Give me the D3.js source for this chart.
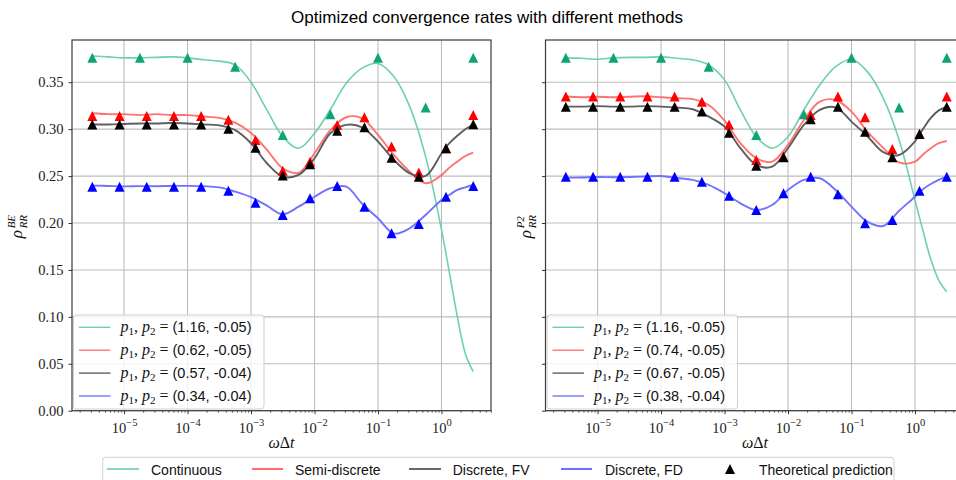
<!DOCTYPE html>
<html><head><meta charset="utf-8">
<script src="https://cdn.jsdelivr.net/npm/d3@7"></script>
<style>body{margin:0;background:#fff}svg{display:block}</style>
</head><body><svg id="c" width="956" height="480"></svg>
<script>
// ---------------- data ----------------
const titleText = "Optimized convergence rates with different methods";
const seriesNames = ["Continuous", "Semi-discrete", "Discrete, FV", "Discrete, FD"];
const predictionName = "Theoretical prediction";
const xTickExps = [-5, -4, -3, -2, -1, 0];
const yTicks = [0.00, 0.05, 0.10, 0.15, 0.20, 0.25, 0.30, 0.35];

// exponent (log10 of omega*dt) of the sampled simulation curves
const lineExp = [-5.5,-5.25,-5,-4.75,-4.5,-4.25,-4,-3.75,-3.5,-3.25,-3,-2.75,-2.5,-2.25,-2,-1.75,-1.5,-1.25,-1,-0.75,-0.5,-0.25,0,0.125,0.25,0.375,0.5];
// exponents of theoretical prediction markers
const triExp = [-5.5,-5.071,-4.643,-4.214,-3.786,-3.357,-2.929,-2.5,-2.071,-1.643,-1.214,-0.786,-0.357,0.071,0.5];
const triExpContinuous = [-5.5,-4.75,-4,-3.25,-2.5,-1.75,-1,-0.25,0.5];

// left panel (rho_RR^BE)
const leftContinuous = [0.378,0.377,0.376,0.376,0.3765,0.377,0.376,0.374,0.3725,0.3685,0.350,0.3205,0.292,0.2797,0.2956,0.321,0.349,0.365,0.370,0.356,0.324,0.2707,0.193,0.147,0.1002,0.061,0.0416];
const leftSemi = [0.317,0.316,0.316,0.315,0.316,0.315,0.315,0.3135,0.312,0.307,0.296,0.278,0.2583,0.2535,0.2743,0.299,0.3127,0.3116,0.2938,0.2725,0.2547,0.2423,0.251,0.259,0.2654,0.2714,0.275];
const leftFV = [0.305,0.305,0.3055,0.306,0.306,0.3065,0.306,0.305,0.304,0.299,0.285,0.2637,0.2494,0.2512,0.269,0.2956,0.3045,0.302,0.2867,0.2672,0.253,0.2501,0.274,0.285,0.293,0.300,0.305];
const leftFD = [0.2398,0.2395,0.239,0.2393,0.2392,0.2395,0.2396,0.2392,0.238,0.2334,0.2275,0.2185,0.2093,0.2174,0.228,0.237,0.2387,0.2205,0.205,0.1888,0.1944,0.2086,0.2245,0.230,0.2352,0.238,0.2405];
const leftLegend = ["(1.16, -0.05)", "(0.62, -0.05)", "(0.57, -0.04)", "(0.34, -0.04)"];

// right panel (rho_RR^P2)
const rightContinuous = [0.376,0.3755,0.3745,0.376,0.3765,0.3765,0.377,0.3755,0.3738,0.3684,0.3525,0.3205,0.292,0.2797,0.292,0.3205,0.3471,0.3666,0.3745,0.3613,0.333,0.2885,0.2245,0.192,0.161,0.139,0.1268];
const rightSemi = [0.335,0.334,0.3345,0.334,0.3345,0.335,0.334,0.333,0.332,0.3258,0.309,0.285,0.269,0.2654,0.2832,0.3098,0.3293,0.3311,0.3187,0.2973,0.280,0.2645,0.2654,0.273,0.2797,0.285,0.2874];
const rightFV = [0.324,0.324,0.3245,0.324,0.324,0.3245,0.324,0.323,0.3212,0.3134,0.3027,0.2797,0.2619,0.26,0.2797,0.3045,0.3205,0.3233,0.308,0.2925,0.2755,0.2725,0.287,0.300,0.312,0.320,0.324];
const rightFD = [0.2483,0.2485,0.249,0.2488,0.249,0.2495,0.2501,0.248,0.2459,0.2405,0.2317,0.221,0.2139,0.2192,0.2352,0.2459,0.2477,0.2352,0.2174,0.2014,0.1968,0.213,0.228,0.236,0.2416,0.246,0.2494];
const rightLegend = ["(1.16, -0.05)", "(0.74, -0.05)", "(0.67, -0.05)", "(0.38, -0.04)"];

// theoretical predictions
const triContinuous = [0.376,0.376,0.376,0.3666,0.2938,0.316,0.376,0.323,0.376];
const leftTriSemi = [0.314,0.314,0.314,0.314,0.314,0.310,0.2885,0.2558,0.2654,0.3045,0.3127,0.2814,0.2537,0.2797,0.315];
const leftTriFV = [0.305,0.305,0.305,0.305,0.305,0.3005,0.2803,0.2505,0.2626,0.2984,0.302,0.2696,0.2494,0.2797,0.3052];
const leftTriFD = [0.2387,0.2387,0.2387,0.2387,0.2387,0.2345,0.2217,0.2086,0.2264,0.2395,0.2174,0.189,0.199,0.228,0.2395];
const rightTriSemi = [0.3347,0.3347,0.3347,0.3347,0.3347,0.3293,0.305,0.2672,0.2707,0.3151,0.3347,0.3127,0.2789,0.2949,0.3347];
const rightTriFV = [0.324,0.324,0.324,0.324,0.324,0.3187,0.2963,0.2611,0.27,0.3105,0.324,0.2973,0.27,0.2949,0.324];
const rightTriFD = [0.2494,0.2494,0.2494,0.2494,0.2494,0.244,0.2291,0.2139,0.2317,0.2494,0.2306,0.1997,0.2032,0.2345,0.2494];

// ---------------- style ----------------
const lineColors = ["#66cdaa", "#ff6a6a", "#555555", "#6a6aff"];
const legendLineColors = ["#66cdaa", "#ff4a4a", "#404040", "#4a4aff"];
const triColors = ["#0fa37a", "#ff0000", "#000000", "#0000ff"];
const serif = "'Liberation Serif', 'DejaVu Serif', serif";
const sans = "'Liberation Sans', 'DejaVu Sans', sans-serif";

const svg = d3.select("#c");
const panelW = 419, plotTop = 40, plotBottom = 410.7;
const y = d3.scaleLinear().domain([0, 0.395]).range([plotBottom, plotTop]);
const triPath = "M0,-5L5,5L-5,5Z";

svg.append("text").attr("x", 487).attr("y", 23).attr("text-anchor", "middle")
  .attr("font-family", sans).attr("font-size", 17).attr("fill", "#000").text(titleText);

const panels = [
  {x0: 72, sup: "BE", lines: [leftContinuous, leftSemi, leftFV, leftFD],
   tris: [triContinuous, leftTriSemi, leftTriFV, leftTriFD], legend: leftLegend, yLabels: true, labelX: 22},
  {x0: 545.5, sup: "P2", lines: [rightContinuous, rightSemi, rightFV, rightFD],
   tris: [triContinuous, rightTriSemi, rightTriFV, rightTriFD], legend: rightLegend, yLabels: false, labelX: 531}
];

panels.forEach((p, pi) => {
  const x = d3.scaleLog().domain([Math.pow(10, -5.82), Math.pow(10, 0.78)]).range([p.x0, p.x0 + panelW]);
  const g = svg.append("g");
  const clipId = "clip" + pi;
  svg.append("clipPath").attr("id", clipId).append("rect")
    .attr("x", p.x0).attr("y", plotTop).attr("width", panelW).attr("height", plotBottom - plotTop);

  // grid
  g.append("g").selectAll("line").data(xTickExps).enter().append("line")
    .attr("x1", d => x(Math.pow(10, d))).attr("x2", d => x(Math.pow(10, d)))
    .attr("y1", plotTop).attr("y2", plotBottom).attr("stroke", "#bdbdbd").attr("stroke-width", 1.1);
  g.append("g").selectAll("line").data(yTicks).enter().append("line")
    .attr("x1", p.x0).attr("x2", p.x0 + panelW)
    .attr("y1", d => y(d)).attr("y2", d => y(d)).attr("stroke", "#bdbdbd").attr("stroke-width", 1.1);

  // curves
  const lineGen = d3.line().x((d, i) => x(Math.pow(10, lineExp[i]))).y(d => y(d)).curve(d3.curveCatmullRom.alpha(0.5));
  const lg = g.append("g").attr("clip-path", `url(#${clipId})`);
  p.lines.forEach((vals, si) => {
    lg.append("path").datum(vals).attr("d", lineGen).attr("fill", "none")
      .attr("stroke", lineColors[si]).attr("stroke-width", si === 0 ? 1.6 : 1.9)
      .attr("stroke-opacity", 0.95);
  });

  // markers
  p.tris.forEach((vals, si) => {
    const ex = si === 0 ? triExpContinuous : triExp;
    lg.append("g").selectAll("path").data(vals).enter().append("path")
      .attr("d", triPath)
      .attr("transform", (d, i) => `translate(${x(Math.pow(10, ex[i]))},${y(d)})`)
      .attr("fill", triColors[si]);
  });

  // axes
  const xAxis = d3.axisBottom(x).tickValues(xTickExps.map(e => Math.pow(10, e)))
    .tickSize(3.5).tickPadding(3).tickFormat("");
  const xa = g.append("g").attr("transform", `translate(0,${plotBottom})`).call(xAxis);
  xa.select(".domain").remove();
  xa.selectAll(".tick line").attr("stroke", "#333");
  xa.selectAll(".tick").append("text").attr("y", 22).attr("text-anchor", "middle")
    .attr("font-family", serif).attr("font-size", 14.5).attr("fill", "#222")
    .each(function(d) {
      const t = d3.select(this);
      const e = Math.round(Math.log10(d));
      t.append("tspan").text("10");
      t.append("tspan").attr("dy", -7).attr("font-size", 10.5).text(e < 0 ? "\u2212" + (-e) : String(e));
    });
  const minor = [];
  for (let k = -6; k <= 0; k++) for (let m = 2; m <= 9; m++) {
    const v = m * Math.pow(10, k);
    if (v >= x.domain()[0] && v <= x.domain()[1]) minor.push(v);
  }
  const xm = g.append("g").attr("transform", `translate(0,${plotBottom})`)
    .call(d3.axisBottom(x).tickValues(minor).tickSize(2).tickFormat(""));
  xm.select(".domain").remove();
  xm.selectAll(".tick line").attr("stroke", "#333").attr("stroke-width", 0.8);

  const yAxis = d3.axisLeft(y).tickValues(yTicks).tickSize(3.5).tickPadding(5)
    .tickFormat(p.yLabels ? d3.format(".2f") : "");
  const ya = g.append("g").attr("transform", `translate(${p.x0},0)`).call(yAxis);
  ya.select(".domain").remove();
  ya.selectAll(".tick line").attr("stroke", "#333");
  ya.selectAll(".tick text").attr("font-family", serif).attr("font-size", 14.5).attr("fill", "#222");

  // spines
  g.append("rect").attr("x", p.x0).attr("y", plotTop).attr("width", panelW).attr("height", plotBottom - plotTop)
    .attr("fill", "none").attr("stroke", "#3a3a3a").attr("stroke-width", 1.2);

  // axis labels
  const xl = g.append("text").attr("x", p.x0 + panelW / 2).attr("y", 448).attr("text-anchor", "middle")
    .attr("font-family", serif).attr("font-size", 16).attr("fill", "#111");
  xl.append("tspan").attr("font-style", "italic").text("\u03c9");
  xl.append("tspan").text("\u0394");
  xl.append("tspan").attr("font-style", "italic").text("t");

  const yg = g.append("g").attr("transform", `translate(${p.labelX},${(plotTop + plotBottom) / 2}) rotate(-90)`);
  yg.append("text").attr("x", -13).attr("y", 0).attr("font-family", serif).attr("font-style", "italic")
    .attr("font-size", 17).attr("fill", "#111").text("\u03c1");
  yg.append("text").attr("x", -3).attr("y", -7).attr("font-family", serif).attr("font-style", "italic")
    .attr("font-size", 11).attr("fill", "#111").text(p.sup);
  yg.append("text").attr("x", -3).attr("y", 5).attr("font-family", serif).attr("font-style", "italic")
    .attr("font-size", 11).attr("fill", "#111").text("RR");

  // inner legend
  const lx = p.x0 + 1.5, ly = 315, lw = 190.5, lh = 94;
  const leg = g.append("g");
  leg.append("rect").attr("x", lx).attr("y", ly).attr("width", lw).attr("height", lh).attr("rx", 3)
    .attr("fill", "#fff").attr("fill-opacity", 0.8).attr("stroke", "#d0d0d0").attr("stroke-width", 1);
  p.legend.forEach((lab, i) => {
    const cy = 327.3 + i * 22.9;
    leg.append("line").attr("x1", lx + 5.5).attr("x2", lx + 37).attr("y1", cy).attr("y2", cy)
      .attr("stroke", lineColors[i]).attr("stroke-width", 1.3);
    const t = leg.append("text").attr("x", lx + 47).attr("y", cy + 5).attr("fill", "#111").attr("font-size", 14.5);
    t.append("tspan").attr("font-family", serif).attr("font-style", "italic").attr("font-size", 16).text("p");
    t.append("tspan").attr("font-family", serif).attr("font-size", 11).attr("dy", 3).text("1");
    t.append("tspan").attr("font-family", serif).attr("font-size", 16).attr("dy", -3).text(", ");
    t.append("tspan").attr("font-family", serif).attr("font-style", "italic").attr("font-size", 16).text("p");
    t.append("tspan").attr("font-family", serif).attr("font-size", 11).attr("dy", 3).text("2");
    t.append("tspan").attr("font-family", serif).attr("font-size", 16).attr("dy", -3).text(" = ");
    t.append("tspan").attr("font-family", sans).text(lab);
  });
});

// bottom legend
const bl = svg.append("g");
bl.append("rect").attr("x", 102.7).attr("y", 457.3).attr("width", 791.3).attr("height", 34).attr("rx", 3)
  .attr("fill", "#fff").attr("stroke", "#d0d0d0").attr("stroke-width", 1);
const blItems = [
  {x1: 107, x2: 139, tx: 151},
  {x1: 252, x2: 283, tx: 295},
  {x1: 409, x2: 441, tx: 452.7},
  {x1: 561, x2: 592, tx: 605}
];
seriesNames.forEach((name, i) => {
  const it = blItems[i];
  bl.append("line").attr("x1", it.x1).attr("x2", it.x2).attr("y1", 469).attr("y2", 469)
    .attr("stroke", legendLineColors[i]).attr("stroke-width", 1.6);
  bl.append("text").attr("x", it.tx).attr("y", 474.5).attr("font-family", sans).attr("font-size", 14)
    .attr("fill", "#111").text(name);
});
bl.append("path").attr("d", triPath).attr("transform", "translate(730,469)").attr("fill", "#000");
bl.append("text").attr("x", 759).attr("y", 474.5).attr("font-family", sans).attr("font-size", 14)
  .attr("fill", "#111").text(predictionName);
</script>
</body></html>
